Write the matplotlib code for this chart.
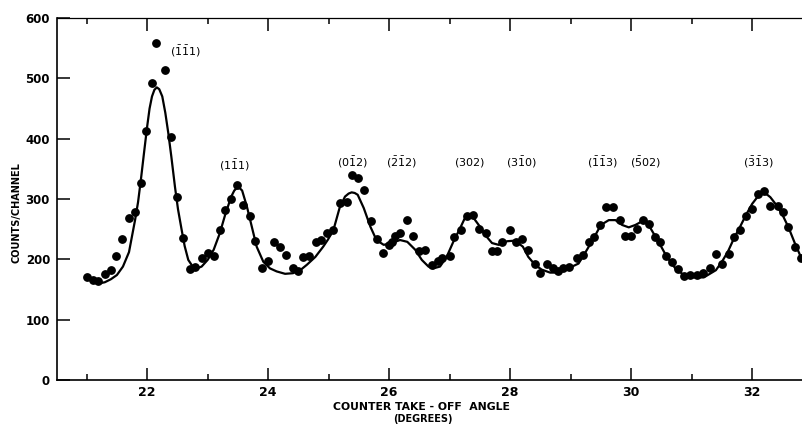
import numpy as np
import matplotlib
matplotlib.use("Agg")
import matplotlib.pyplot as plt
from matplotlib.ticker import MultipleLocator

plt.rcParams["font.family"] = ["DejaVu Sans"]
plt.rcParams["mathtext.fontset"] = "dejavusans"
plt.rcParams["mathtext.default"] = "regular"

angle = [21.00, 21.10, 21.19, 21.30, 21.40, 21.49, 21.59, 21.70, 21.80, 21.90,
         21.98, 22.08, 22.15, 22.29, 22.40, 22.50, 22.59, 22.70, 22.79, 22.90,
         23.00, 23.11, 23.20, 23.29, 23.39, 23.48, 23.59, 23.70, 23.79, 23.90,
         24.00, 24.10, 24.20, 24.30, 24.41, 24.49, 24.58, 24.68, 24.79, 24.87,
         24.98, 25.08, 25.18, 25.30, 25.38, 25.48, 25.59, 25.70, 25.80, 25.90,
         25.99, 26.05, 26.10, 26.18, 26.29, 26.39, 26.50, 26.60, 26.71, 26.80,
         26.88, 27.00, 27.07, 27.19, 27.28, 27.38, 27.49, 27.60, 27.70, 27.79,
         27.87, 28.00, 28.09, 28.19, 28.29, 28.41, 28.50, 28.61, 28.70, 28.79,
         28.88, 28.98, 29.10, 29.20, 29.31, 29.39, 29.49, 29.59, 29.70, 29.81,
         29.90, 30.00, 30.09, 30.19, 30.30, 30.40, 30.48, 30.58, 30.67, 30.78,
         30.88, 30.98, 31.08, 31.19, 31.30, 31.40, 31.50, 31.61, 31.70, 31.80,
         31.90, 32.00, 32.09, 32.19, 32.30, 32.42, 32.51, 32.60, 32.71, 32.81]
counts = [171, 166, 164, 176, 182, 206, 233, 269, 279, 326,
          412, 492, 558, 514, 403, 303, 236, 184, 188, 203,
          211, 206, 248, 282, 300, 323, 290, 272, 231, 185,
          198, 228, 221, 207, 185, 181, 204, 206, 229, 232,
          243, 249, 293, 295, 340, 335, 315, 264, 233, 211,
          224, 228, 238, 243, 265, 238, 213, 215, 190, 198,
          203, 206, 237, 249, 271, 274, 250, 244, 214, 214,
          228, 249, 229, 234, 216, 192, 177, 193, 185, 180,
          185, 188, 203, 207, 228, 237, 257, 286, 286, 265,
          238, 238, 251, 265, 259, 237, 228, 206, 196, 184,
          172, 174, 174, 177, 185, 209, 193, 209, 237, 249,
          272, 283, 308, 314, 289, 289, 279, 253, 220, 202]

# fitted curve
fit_angle = [21.10, 21.20, 21.30, 21.40, 21.50, 21.60, 21.70, 21.80, 21.85, 21.90,
             21.95, 22.00, 22.04, 22.08, 22.12, 22.16, 22.20, 22.25, 22.30, 22.35,
             22.40, 22.46, 22.51, 22.57, 22.62, 22.68, 22.74, 22.79, 22.85, 22.90,
             23.00, 23.10, 23.20, 23.29, 23.39, 23.44, 23.48, 23.53, 23.57, 23.65,
             23.73, 23.81, 23.92, 24.03, 24.14, 24.28, 24.41, 24.53, 24.64, 24.78,
             24.91, 24.99, 25.08, 25.18, 25.27, 25.33, 25.38, 25.43, 25.48, 25.58,
             25.69, 25.79, 25.91, 26.04, 26.18, 26.30, 26.43, 26.54, 26.65, 26.73,
             26.84, 26.95, 27.06, 27.17, 27.24, 27.28, 27.33, 27.37, 27.48, 27.59,
             27.70, 27.81, 27.95, 28.08, 28.21, 28.30, 28.41, 28.52, 28.66, 28.80,
             28.96, 29.13, 29.27, 29.38, 29.50, 29.63, 29.74, 29.85, 29.96, 30.07,
             30.18, 30.27, 30.37, 30.48, 30.59, 30.73, 30.87, 31.00, 31.20, 31.40,
             31.50, 31.60, 31.70, 31.80, 31.90, 32.00, 32.10, 32.15, 32.20, 32.25,
             32.30, 32.40, 32.50, 32.60, 32.70, 32.80, 32.86]
fit_counts = [162, 160, 162, 167, 174, 188, 212, 265, 295, 335,
              378, 420, 450, 470, 481, 485, 482, 470, 443, 409,
              370, 320, 283, 249, 222, 199, 190, 187, 186, 188,
              199, 216, 243, 274, 304, 314, 318, 318, 314, 287,
              254, 221, 196, 185, 180, 176, 177, 182, 191, 204,
              221, 233, 249, 285, 304, 309, 311, 310, 307, 285,
              254, 232, 224, 227, 232, 229, 216, 199, 188, 185,
              188, 204, 229, 251, 266, 272, 274, 272, 257, 240,
              227, 224, 230, 231, 221, 204, 191, 183, 178, 178,
              185, 193, 216, 235, 257, 265, 265, 257, 253, 257,
              263, 260, 243, 224, 204, 185, 174, 170, 170, 182,
              196, 213, 235, 254, 274, 292, 305, 308, 309, 307,
              303, 290, 274, 253, 228, 205, 194]

# reflection labels
peak_labels = [r"$(\bar{1}\bar{1}1)$", r"$(1\bar{1}1)$", r"$(0\bar{1}2)$",
               r"$(\bar{2}\bar{1}2)$", r"$(302)$", r"$(3\bar{1}0)$",
               r"$(\bar{1}\bar{1}3)$", r"$(\bar{5}02)$", r"$(\bar{3}\bar{1}3)$"]
label_x = [22.63, 23.45, 25.40, 26.21, 27.33, 28.19, 29.52, 30.23, 32.10]
label_y = [544, 355, 360, 360, 360, 360, 360, 360, 360]

fig = plt.figure(figsize=(8.03, 4.26), dpi=100)
ax = fig.add_axes([57 / 803, 46 / 426, 746 / 803, 362 / 426])

ax.plot(fit_angle, fit_counts, color="black", lw=1.6, solid_joinstyle="round")
ax.plot(angle, counts, "o", color="black", ms=5.3, mec="black")

for txt, lx, ly in zip(peak_labels, label_x, label_y):
    ax.text(lx, ly, txt, ha="center", va="center", fontsize=8)

ax.set_xlim(20.51, 32.84)
ax.set_ylim(0, 600)
ax.xaxis.set_major_locator(MultipleLocator(2))
ax.xaxis.set_minor_locator(MultipleLocator(1))
ax.yaxis.set_major_locator(MultipleLocator(100))

ax.spines["right"].set_visible(False)
for s in ["left", "bottom"]:
    ax.spines[s].set_linewidth(1.2)
ax.spines["top"].set_linewidth(0.9)

ax.tick_params(axis="x", which="major", direction="in", length=9, width=1.1,
               top=True, pad=4, labelsize=9)
ax.tick_params(axis="x", which="minor", direction="in", length=4.5, width=1.1,
               top=True)
ax.tick_params(axis="y", which="major", direction="in", length=9, width=1.1,
               pad=5, labelsize=8.5)
for lab in ax.get_xticklabels() + ax.get_yticklabels():
    lab.set_fontweight("bold")

fig.text(421 / 803, 1 - 407 / 426, "COUNTER TAKE - OFF  ANGLE", ha="center",
         va="center", fontsize=7.8, fontweight="bold")
fig.text(423 / 803, 1 - 419 / 426, "(DEGREES)", ha="center", va="center",
         fontsize=7, fontweight="bold")
fig.text(17 / 803, 1 - 213 / 426, "COUNTS/CHANNEL", ha="center", va="center",
         rotation=90, fontsize=7, fontweight="bold")

fig.savefig("out.png", dpi=100)
